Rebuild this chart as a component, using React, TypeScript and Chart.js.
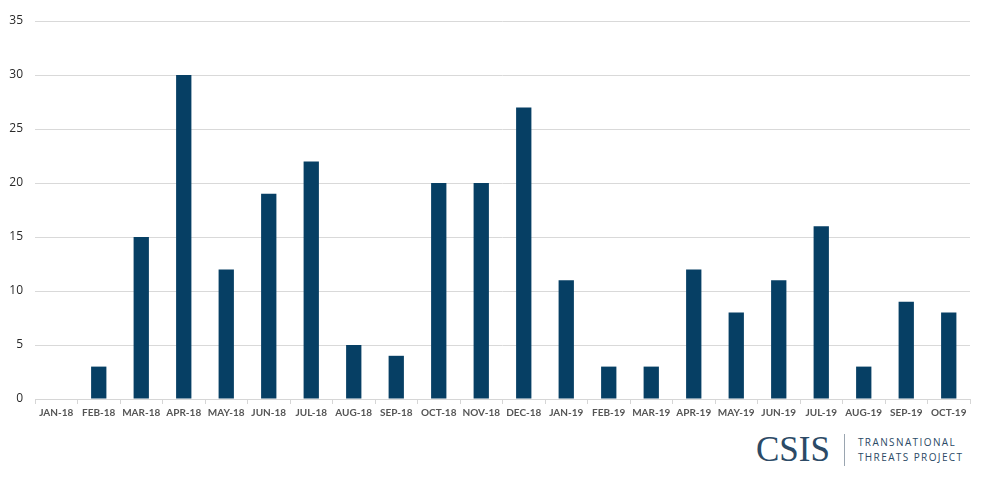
import { useEffect, useRef } from "react";
import { Chart, registerables, ChartConfiguration } from "chart.js";

Chart.register(...registerables);

const months = [
  "JAN-18", "FEB-18", "MAR-18", "APR-18", "MAY-18", "JUN-18", "JUL-18", "AUG-18",
  "SEP-18", "OCT-18", "NOV-18", "DEC-18", "JAN-19", "FEB-19", "MAR-19", "APR-19",
  "MAY-19", "JUN-19", "JUL-19", "AUG-19", "SEP-19", "OCT-19",
];
const counts = [0, 3, 15, 30, 12, 19, 22, 5, 4, 20, 20, 27, 11, 3, 3, 12, 8, 11, 16, 3, 9, 8];
const yMax = 35;
const yStep = 5;

const barColor = "#063f64";
const logoColor = "#2c4a66";

const App = () => {
  const chartRef = useRef<HTMLCanvasElement>(null);

  useEffect(() => {
    if (!chartRef.current) return;
    const ctx = chartRef.current.getContext("2d");
    if (!ctx) return;

    const config: ChartConfiguration<"bar"> = {
      type: "bar",
      data: {
        labels: months,
        datasets: [{
          data: counts,
          backgroundColor: barColor,
          borderWidth: 0,
          barPercentage: 0.72,
          categoryPercentage: 0.5,
        }],
      },
      options: {
        responsive: false,
        animation: false,
        layout: { padding: { top: 21, right: 30, left: 0, bottom: 0 } },
        plugins: {
          legend: { display: false },
          tooltip: { enabled: false },
        },
        scales: {
          x: {
            offset: true,
            grid: {
              display: true,
              offset: true,
              drawOnChartArea: false,
              drawTicks: true,
              tickLength: 5,
              color: "#d6d6d6",
            },
            border: { display: true, color: "#d6d6d6", width: 1 },
            ticks: {
              color: "#555",
              font: { family: "Lato", size: 10, weight: "bold" },
              maxRotation: 0,
              autoSkip: false,
              padding: 3,
            },
            afterFit: (scale) => { scale.height = 26; },
          },
          y: {
            min: 0,
            max: yMax,
            grid: { color: "#d9d9d9", drawTicks: false, lineWidth: 1 },
            border: { display: false },
            ticks: {
              stepSize: yStep,
              color: "#2a2a2a",
              font: { family: "Open Sans", size: 12 },
              padding: 12,
            },
            afterFit: (scale) => { scale.width = 35; },
          },
        },
      },
    };

    const chart = new Chart(ctx, config);
    return () => {
      chart.destroy();
    };
  }, []);

  return (
    <div style={{ position: "fixed", left: 0, top: 0, width: 1000, height: 493, background: "#fff" }}>
      <canvas ref={chartRef} width={1000} height={425} style={{ display: "block" }} />
      <div style={{ position: "absolute", left: 756, top: 430, display: "flex", alignItems: "center" }}>
        <span style={{ fontFamily: "Liberation Serif", fontSize: 35, color: logoColor, lineHeight: "40px" }}>CSIS</span>
        <span style={{ width: 1, height: 32, background: "#9aa5b0", marginLeft: 14, marginRight: 13 }} />
        <span style={{ fontFamily: "Open Sans", fontSize: 10, letterSpacing: 1.4, color: logoColor, lineHeight: "15px" }}>
          TRANSNATIONAL<br />THREATS PROJECT
        </span>
      </div>
    </div>
  );
};

export default App;
